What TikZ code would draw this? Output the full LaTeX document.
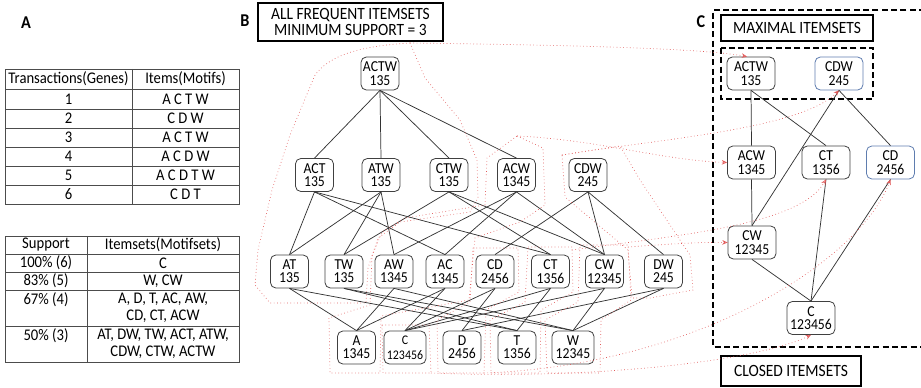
\documentclass[tikz,border=0pt]{standalone}
\usepackage{fontspec}
\setmainfont{Carlito}[FakeStretch=0.9]
\usetikzlibrary{arrows.meta}
\definecolor{redline}{RGB}{225,90,90}
\definecolor{bluebox}{RGB}{95,125,175}
\begin{document}
\begin{tikzpicture}[x=0.75pt,y=-0.75pt,
  nb/.style={draw=black!75, line width=0.6pt, rounded corners=4pt, minimum width=28.5pt, minimum height=24.75pt, inner sep=0pt, align=center, font=\fontsize{11.4}{10}\selectfont},
  nbw/.style={nb, minimum width=31.5pt},
  nc/.style={nb, minimum width=36pt},
  ncb/.style={nc, draw=bluebox},
  edge/.style={draw=black!80, line width=0.55pt},
  tline/.style={draw=black!70, line width=0.6pt},
  ttext/.style={font=\fontsize{12.2}{12.8}\selectfont, align=center, inner sep=0pt},
  title/.style={draw=black, line width=1.3pt, inner sep=0pt, font=\fontsize{12.9}{11.5}\selectfont, align=center},
  plabel/.style={font=\fontsize{13.5}{13.5}\selectfont\bfseries, inner sep=0pt},
  grp/.style={draw=redline, line width=0.5pt, dotted},
  garrow/.style={draw=redline, line width=0.5pt, dotted, -{Stealth[length=4pt,width=3.5pt,open]}},
  dbox/.style={draw=black, line width=1.3pt, dash pattern=on 4.5pt off 2.5pt}
]
\useasboundingbox (0,0) rectangle (921,388);
\clip (0,0) rectangle (921,388);

% ---------------- Panel A ----------------
\node[plabel] (labA) at (26,23) {A};
% table 1
\draw[tline] (5,69) rectangle (239,204);
\foreach \yy in {89,109,128,147,166,185} \draw[tline] (5,\yy) -- (239,\yy);
\draw[tline] (132,69) -- (132,204);
\node[ttext] (t1h1) at (68.5,79) {Transactions(Genes)};
\node[ttext] (t1h2) at (185.5,79) {Items(Motifs)};
\node[ttext] (t1r1a) at (68.5,99) {1};   \node[ttext] (t1r1b) at (185.5,99) {A C T W};
\node[ttext] (t1r2a) at (68.5,118.5) {2}; \node[ttext] (t1r2b) at (185.5,118.5) {C D W};
\node[ttext] (t1r3a) at (68.5,137.5) {3}; \node[ttext] (t1r3b) at (185.5,137.5) {A C T W};
\node[ttext] (t1r4a) at (68.5,156.5) {4}; \node[ttext] (t1r4b) at (185.5,156.5) {A C D W};
\node[ttext] (t1r5a) at (68.5,175.5) {5}; \node[ttext] (t1r5b) at (185.5,175.5) {A C D T W};
\node[ttext] (t1r6a) at (68.5,194.5) {6}; \node[ttext] (t1r6b) at (185.5,194.5) {C D T};
% table 2
\draw[tline] (5,236) rectangle (239,362);
\foreach \yy in {254,272,290,326} \draw[tline] (5,\yy) -- (239,\yy);
\draw[tline] (87,236) -- (87,362);
\node[ttext] (t2h1) at (46,245) {Support};
\node[ttext] (t2h2) at (163,245) {Itemsets(Motifsets)};
\node[ttext] (t2r1a) at (46,263) {100\% (6)}; \node[ttext] (t2r1b) at (163,263) {C};
\node[ttext] (t2r2a) at (46,281) {83\% (5)};  \node[ttext] (t2r2b) at (163,281) {W, CW};
\node[ttext] (t2r3a) at (46,299.5) {67\% (4)};
\node[ttext, anchor=north] (t2r3b) at (163,292.5) {A, D, T, AC, AW,\\CD, CT, ACW};
\node[ttext] (t2r4a) at (46,335.5) {50\% (3)};
\node[ttext, anchor=north] (t2r4b) at (163,328.5) {AT, DW, TW, ACT, ATW,\\CDW, CTW, ACTW};

% ---------------- Panel B ----------------
\node[plabel] (labB) at (245,21) {B};
\node[title, minimum width=138.75pt, minimum height=28.5pt] (tB) at (350.5,22) {ALL FREQUENT ITEMSETS\\MINIMUM SUPPORT = 3};

\node[nb] (ACTW) at (380,73.5) {ACTW\\135};
\node[nb] (ACT) at (314.5,175) {ACT\\135};
\node[nb] (ATW) at (381,175) {ATW\\135};
\node[nb] (CTW) at (449,175) {CTW\\135};
\node[nb] (ACW) at (516.5,175) {ACW\\1345};
\node[nb] (CDW) at (588,175) {CDW\\245};
\node[nb] (AT) at (289.5,271.5) {AT\\135};
\node[nb] (TW) at (344,271.5) {TW\\135};
\node[nb] (AW) at (394,271.5) {AW\\1345};
\node[nb] (AC) at (445,271.5) {AC\\1345};
\node[nb] (CD) at (495,271.5) {CD\\2456};
\node[nb] (CT) at (550.5,271.5) {CT\\1356};
\node[nb] (CW) at (604.5,271.5) {CW\\12345};
\node[nb] (DW) at (663.5,271.5) {DW\\245};
\node[nb] (A) at (356.5,347.5) {A\\1345};
\node[nbw, font=\fontsize{9.9}{11}\selectfont] (C) at (405,347.5) {C\\123456};
\node[nb] (D) at (462,347.5) {D\\2456};
\node[nb] (T) at (517,347.5) {T\\1356};
\node[nbw] (W) at (573,347.5) {W\\12345};

\foreach \a/\b in {ACTW/ACT, ACTW/ATW, ACTW/CTW, ACTW/ACW,
  ACT/AT, ACT/AC, ACT/CT, ATW/AT, ATW/TW, ATW/AW, CTW/TW, CTW/CT, CTW/CW,
  ACW/AC, ACW/AW, ACW/CW, CDW/CD, CDW/CW, CDW/DW,
  AT/A, AT/T, TW/T, TW/W, AW/A, AW/W, AC/A, AC/C, CD/C, CD/D, CT/C, CT/T, CW/C, CW/W, DW/D, DW/W}
  \draw[edge] (\a.south) -- (\b.north);

% ---------------- Panel C ----------------
\node[plabel] (labC) at (701,22) {C};
\draw[dbox] (925,10) -- (713,10) -- (713,347) -- (925,347);
\node[title, minimum width=114pt, minimum height=19.5pt] (tMax) at (797,28) {MAXIMAL ITEMSETS};
\draw[dbox] (721,48) rectangle (873,99);
\node[title, minimum width=105pt, minimum height=22.5pt] (tClo) at (791,371) {CLOSED ITEMSETS};

\node[nc] (cACTW) at (751,73.5) {ACTW\\135};
\node[ncb] (cCDW) at (839,73.5) {CDW\\245};
\node[nc] (cACW) at (751.5,162.5) {ACW\\1345};
\node[nc] (cCT) at (826,162.5) {CT\\1356};
\node[ncb] (cCD) at (890.5,162.5) {CD\\2456};
\node[nc] (cCW) at (752,242.5) {CW\\12345};
\node[nc] (cC) at (811,318) {C\\123456};

\foreach \a/\b in {cACTW/cACW, cACTW/cCT, cCDW/cCW, cCDW/cCD, cACW/cCW, cCW/cC, cCT/cC, cCD/cC}
  \draw[edge] (\a.south) -- (\b.north);

% ---------------- red groupings ----------------
% ACTW group
\draw[grp] (410,43) .. controls (360,46) and (330,55) .. (315,75) -- (290,135) -- (272,190) -- (258,250) -- (255,285) -- (270,303) -- (366,303) -- (368,268) -- (378,238) -- (400,222) -- (470,212) -- (478,198) -- (477,160) -- (460,120) -- (425,78) -- cycle;
% ACW group
\draw[grp] (517,136) -- (543,148) -- (545,205) -- (520,222) -- (475,238) -- (469,300) -- (381,316) -- (380,373) -- (330,373) -- (329,318) -- (370,305) -- (372,256) -- (382,232) -- (405,218) -- (485,205) -- (487,158) -- cycle;
% CDW group
\draw[grp] (562,155) -- (620,146) -- (640,180) -- (690,255) -- (693,290) -- (650,298) -- (632,298) -- (628,250) -- (565,197) -- cycle;
% CD group
\draw[grp] (473,248) -- (518,248) -- (519,292) -- (486,310) -- (484,373) -- (438,373) -- (437,320) -- (470,302) -- cycle;
% CT group
\draw[grp] (528,247) -- (572,247) -- (573,292) -- (541,310) -- (540,373) -- (491,373) -- (490,320) -- (525,302) -- cycle;
% CW group
\draw[grp] (580,245) -- (628,245) -- (631,300) -- (601,320) -- (600,373) -- (547,373) -- (545,320) -- (578,302) -- cycle;
% C group
\draw[grp] (382,325) -- (429,325) -- (431,373) -- (383,373) -- cycle;

% arrows to closed itemsets
\coordinate (gACTW) at (410,43);
\coordinate (gACW) at (517,136);
\coordinate (gCDW) at (562,155);
\coordinate (gCT) at (572,250);
\coordinate (gCW) at (628,247);
\coordinate (gCD) at (484,373);
\coordinate (gC) at (431,373);
\draw[garrow] (gACTW) .. controls (560,45) and (700,48) .. ([xshift=-3pt]cACTW.north);
\draw[garrow] (gACW) .. controls (600,140) and (660,160) .. (cACW.west);
\draw[garrow] (gCDW) .. controls (650,140) and (800,130) .. (cCDW.south);
\draw[garrow] (gCT) .. controls (680,235) and (800,225) .. (cCT.south);
\draw[garrow] (gCW) .. controls (670,244) and (700,242) .. (cCW.west);
\draw[garrow] (gCD) .. controls (700,365) and (860,260) .. (cCD.south);
\draw[garrow] (gC) .. controls (600,380) and (760,360) .. (cC.south);
\end{tikzpicture}
\end{document}
